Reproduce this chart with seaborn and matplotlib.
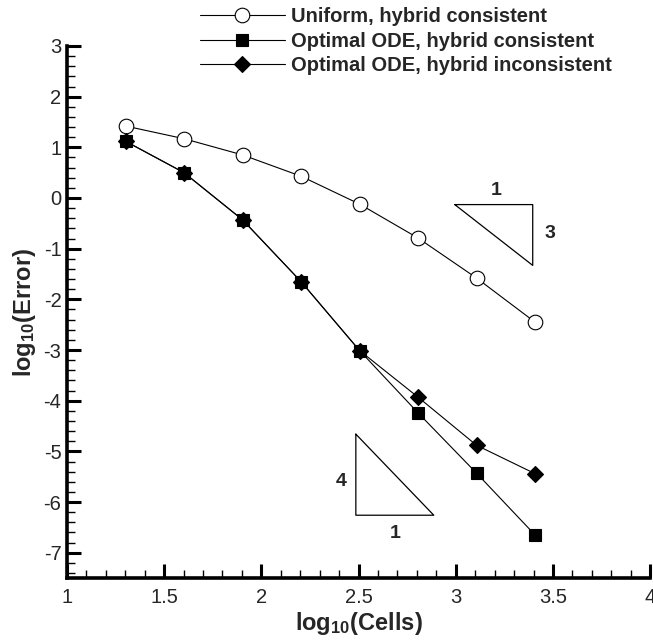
"""
Convergence of error vs. number of cells (log-log)
"""
import numpy as np
import pandas as pd
import matplotlib
matplotlib.use("Agg")
import matplotlib.pyplot as plt
from matplotlib.ticker import MultipleLocator
import seaborn as sns

# data
log_cells = [1.301, 1.602, 1.903, 2.204, 2.505, 2.806, 3.107, 3.408]
uniform_err = [1.42, 1.17, 0.85, 0.43, -0.12, -0.79, -1.58, -2.45]
ode_consistent_err = [1.12, 0.50, -0.43, -1.65, -3.01, -4.24, -5.43, -6.65]
ode_inconsistent_err = [1.12, 0.50, -0.43, -1.65, -3.01, -3.93, -4.88, -5.44]

series_names = [
    "Uniform, hybrid consistent",
    "Optimal ODE, hybrid consistent",
    "Optimal ODE, hybrid inconsistent",
]

# slope triangles (x, y vertices) and their labels
tri3_x = [2.995, 3.396, 3.396, 2.995]
tri3_y = [-0.13, -0.13, -1.33, -0.13]
tri4_x = [2.486, 2.486, 2.887, 2.486]
tri4_y = [-4.66, -6.26, -6.26, -4.66]
tri_labels = ["1", "3", "4", "1"]
tri_label_x = [3.21, 3.485, 2.41, 2.69]
tri_label_y = [0.14, -0.70, -5.60, -6.62]

sns.set_style("white")
plt.rcParams["font.family"] = ["Liberation Sans", "DejaVu Sans"]
plt.rcParams["mathtext.fontset"] = "custom"
plt.rcParams["mathtext.rm"] = "Liberation Sans:bold"
plt.rcParams["mathtext.it"] = "Liberation Sans:bold"
plt.rcParams["mathtext.bf"] = "Liberation Sans:bold"
plt.rcParams["mathtext.default"] = "rm"

fig = plt.figure(figsize=(6.53, 6.43), dpi=100)
ax = fig.add_axes([0.1026, 0.101, 0.893, 0.8275])

df = pd.DataFrame({
    "cells": log_cells * 3,
    "err": uniform_err + ode_consistent_err + ode_inconsistent_err,
    "series": np.repeat(series_names, len(log_cells)),
})

styles = [
    dict(marker="o", markersize=10.5, markerfacecolor="white"),
    dict(marker="s", markersize=8, markerfacecolor="black"),
    dict(marker="D", markersize=8.3, markerfacecolor="black"),
]
for name, st in zip(series_names, styles):
    sub = df[df["series"] == name]
    sns.lineplot(data=sub, x="cells", y="err", ax=ax, color="black",
                 linewidth=0.8, markeredgecolor="black", markeredgewidth=0.8,
                 label=name, **st)

# slope triangles
ax.plot(tri3_x, tri3_y, color="black", linewidth=0.9)
ax.plot(tri4_x, tri4_y, color="black", linewidth=0.9)
for t, tx, ty in zip(tri_labels, tri_label_x, tri_label_y):
    ax.text(tx, ty, t, fontsize=14, fontweight="bold", ha="center", va="center")

ax.set_xlim(1, 4)
ax.set_ylim(-7.5, 3)
ax.xaxis.set_major_locator(MultipleLocator(0.5))
ax.xaxis.set_minor_locator(MultipleLocator(0.1))
ax.yaxis.set_major_locator(MultipleLocator(1))
ax.yaxis.set_minor_locator(MultipleLocator(0.2))
ax.xaxis.set_major_formatter(plt.FuncFormatter(lambda v, p: f"{v:g}"))
ax.yaxis.set_major_formatter(plt.FuncFormatter(lambda v, p: f"{v:g}"))

ax.tick_params(which="both", bottom=True, left=True, top=False, right=False)
ax.tick_params(which="major", direction="in", length=10, width=2.2,
               labelsize=14.5, pad=4, color="black")
ax.tick_params(which="minor", direction="in", length=6, width=1.0, color="black")
ax.tick_params(axis="x", which="major", pad=7)

sns.despine(ax=ax)
for side in ["left", "bottom"]:
    ax.spines[side].set_linewidth(2.6)
    ax.spines[side].set_color("black")

ax.set_xlabel(r"log$_{10}$(Cells)", fontsize=17, fontweight="bold", labelpad=2)
ax.set_ylabel(r"log$_{10}$(Error)", fontsize=17, fontweight="bold", labelpad=4)

ax.get_legend().remove()
handles, labels = ax.get_legend_handles_labels()
fig.legend(handles, labels, loc="upper left",
           bbox_to_anchor=(200 / 653, 1 - 7 / 643), frameon=False,
           borderpad=0, borderaxespad=0, handlelength=4.2,
           handletextpad=0.3, labelspacing=0.28,
           prop={"weight": "bold", "size": 14.5})

fig.savefig("out.png", dpi=100)
plt.close(fig)
